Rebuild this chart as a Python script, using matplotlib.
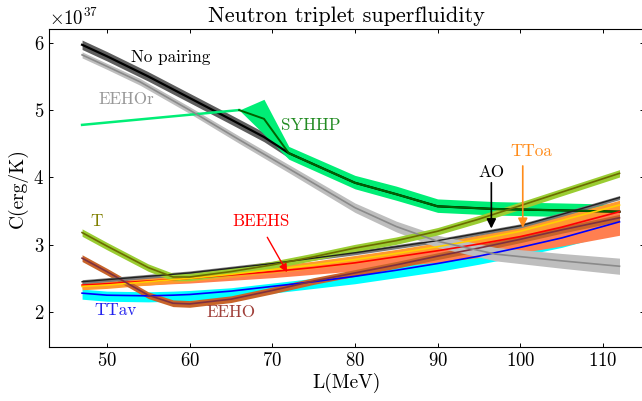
import matplotlib
matplotlib.use('Agg')
import matplotlib.pyplot as plt
import numpy as np

plt.rcParams['font.family'] = 'serif'
plt.rcParams['font.serif'] = ['cmr10']
plt.rcParams['mathtext.fontset'] = 'cm'
plt.rcParams['axes.formatter.use_mathtext'] = True

SCALE = 1e37

# common L grid (MeV)
L = [47, 50, 55, 58, 60, 65, 70, 75, 80, 85, 90, 95, 100, 105, 112]

# No pairing
L_np = [47, 50, 55, 60, 65, 69, 72, 80, 85, 90, 97, 105, 112]
C_np = [5.97, 5.80, 5.50, 5.18, 4.86, 4.60, 4.36, 3.92, 3.75, 3.57, 3.53, 3.51, 3.49]

# SYHHP
L_sy = [47, 66, 69, 72, 80, 85, 90, 97, 105, 112]
C_sy = [4.78, 5.00, 4.87, 4.36, 3.92, 3.75, 3.57, 3.53, 3.51, 3.49]
lo_sy = [4.78, 5.00, 4.64, 4.27, 3.83, 3.66, 3.48, 3.44, 3.42, 3.40]
hi_sy = [4.78, 5.00, 5.16, 4.46, 4.03, 3.87, 3.68, 3.64, 3.62, 3.60]

# EEHOr
L_er = [47, 50, 54, 60, 66, 72, 80, 85, 90, 97, 105, 112]
C_er = [5.82, 5.65, 5.42, 5.00, 4.56, 4.13, 3.55, 3.27, 3.05, 2.86, 2.76, 2.68]
w_er = [0.045, 0.045, 0.05, 0.05, 0.055, 0.06, 0.07, 0.08, 0.09, 0.10, 0.11, 0.12]

C_T = [3.18, 2.98, 2.66, 2.52, 2.52, 2.60, 2.70, 2.82, 2.95, 3.06, 3.20, 3.38, 3.58, 3.78, 4.06]
C_eeho = [2.80, 2.60, 2.25, 2.13, 2.12, 2.19, 2.32, 2.46, 2.58, 2.70, 2.83, 2.95, 3.08, 3.22, 3.40]
C_ttav = [2.28, 2.25, 2.24, 2.25, 2.26, 2.31, 2.38, 2.45, 2.53, 2.62, 2.72, 2.83, 2.96, 3.10, 3.34]
lo_ttav = [0.09, 0.09, 0.09, 0.09, 0.09, 0.10, 0.10, 0.10, 0.11, 0.11, 0.12, 0.12, 0.13, 0.14, 0.15]
hi_ttav = [0.06, 0.06, 0.06, 0.06, 0.06, 0.05, 0.05, 0.05, 0.05, 0.05, 0.05, 0.04, 0.04, 0.04, 0.04]
C_beehs = [2.40, 2.42, 2.46, 2.48, 2.50, 2.55, 2.60, 2.66, 2.73, 2.82, 2.91, 3.01, 3.12, 3.26, 3.49]
lo_beehs = [0.05, 0.05, 0.06, 0.06, 0.07, 0.08, 0.09, 0.10, 0.12, 0.14, 0.17, 0.20, 0.24, 0.28, 0.35]
C_ttoa = [2.38, 2.40, 2.45, 2.48, 2.50, 2.56, 2.63, 2.70, 2.78, 2.87, 2.97, 3.08, 3.20, 3.36, 3.59]
w_ttoa = [0.05, 0.05, 0.05, 0.05, 0.05, 0.05, 0.055, 0.055, 0.06, 0.06, 0.06, 0.065, 0.065, 0.07, 0.07]
C_ao = [2.45, 2.48, 2.53, 2.56, 2.58, 2.65, 2.72, 2.80, 2.88, 2.97, 3.06, 3.17, 3.28, 3.45, 3.70]

fig = plt.figure(figsize=(6.42, 4.01), dpi=100)
ax = fig.add_axes([49 / 642, 54 / 401, 595.3 / 642, 317.7 / 401])


def band(x, c, lo, hi, fc, lc, lw=1.2):
    x = np.array(x)
    c = np.array(c) * SCALE
    ax.fill_between(x, np.array(lo) * SCALE, np.array(hi) * SCALE, color=fc, lw=0)
    if lc is not None:
        ax.plot(x, c, color=lc, lw=lw)


c = np.array(C_np)
band(L_np, C_np, c - 0.07, c + 0.07, '#5e5e5e', 'black', lw=1.6)

# SYHHP: thin line below 66 MeV, band above
ax.plot(L_sy[:2], np.array(C_sy[:2]) * SCALE, color='#00ee76', lw=1.8)
band(L_sy[1:], C_sy[1:], lo_sy[1:], hi_sy[1:], '#00ee76', '#006400', lw=1.4)

c = np.array(C_ttav)
band(L, C_ttav, c - np.array(lo_ttav), c + np.array(hi_ttav), '#00ffff', '#0000ff')
c = np.array(C_beehs)
band(L, C_beehs, c - np.array(lo_beehs), c + 0.06, '#ff7f50', '#ff0000')
c = np.array(C_ttoa)
band(L, C_ttoa, c - np.array(w_ttoa), c + np.array(w_ttoa), '#ff9a2e', '#ffd000')
c = np.array(C_eeho)
band(L, C_eeho, c - 0.05, c + 0.05, '#c8642a', '#7e3040')
c = np.array(C_ao)
band(L, C_ao, c - 0.03, c + 0.03, '#7a7a7a', '#202020', lw=1.0)
c = np.array(C_er)
band(L_er, C_er, c - np.array(w_er), c + np.array(w_er), '#bebebe', '#8a8a8a')
c = np.array(C_T)
band(L, C_T, c - 0.055, c + 0.055, '#9acd32', '#6b6b00')

ax.set_xlim(43, 115)
ax.set_ylim(1.48 * SCALE, 6.2 * SCALE)
ax.set_xticks([50, 60, 70, 80, 90, 100, 110])
ax.set_yticks(np.array([2, 3, 4, 5, 6]) * SCALE)
ax.tick_params(direction='in', top=True, right=True, length=3, width=0.7, labelsize=13.5)
for s in ax.spines.values():
    s.set_linewidth(0.8)
ax.yaxis.get_offset_text().set_fontsize(13.5)

ax.set_title('Neutron triplet superfluidity', fontsize=16, pad=5)
ax.set_xlabel('L(MeV)', fontsize=14, labelpad=2)
ax.set_ylabel('C(erg/K)', fontsize=14, labelpad=4)

fs = 12.3
ax.text(57.7, 5.79 * SCALE, 'No pairing', fontsize=fs, color='black', ha='center', va='center')
ax.text(52.3, 5.16 * SCALE, 'EEHOr', fontsize=fs, color='#999999', ha='center', va='center')
ax.text(74.7, 4.78 * SCALE, 'SYHHP', fontsize=fs, color='#228b22', ha='center', va='center')
ax.text(101.3, 4.38 * SCALE, 'TToa', fontsize=fs, color='#ff8c1a', ha='center', va='center')
ax.text(48.8, 3.34 * SCALE, 'T', fontsize=fs, color='#808000', ha='center', va='center')
ax.text(68.6, 3.34 * SCALE, 'BEEHS', fontsize=fs, color='#ff0000', ha='center', va='center')
ax.text(51.1, 2.03 * SCALE, 'TTav', fontsize=fs, color='#2222ee', ha='center', va='center')
ax.text(65.0, 1.99 * SCALE, 'EEHO', fontsize=fs, color='#a0403a', ha='center', va='center')
ax.text(96.5, 4.08 * SCALE, 'AO', fontsize=fs, color='black', ha='center', va='center')

ax.annotate('', xy=(96.5, 3.24 * SCALE), xytext=(96.5, 3.92 * SCALE),
            arrowprops=dict(arrowstyle='-|>', color='black', lw=1.2, mutation_scale=14,
                            shrinkA=0, shrinkB=0))
ax.annotate('', xy=(100.3, 3.25 * SCALE), xytext=(100.3, 4.17 * SCALE),
            arrowprops=dict(arrowstyle='-|>', color='#ff8c1a', lw=1.2, mutation_scale=14,
                            shrinkA=0, shrinkB=0))
ax.annotate('', xy=(71.8, 2.59 * SCALE), xytext=(69.4, 3.11 * SCALE),
            arrowprops=dict(arrowstyle='-|>', color='#ff0000', lw=1.0, mutation_scale=12,
                            shrinkA=0, shrinkB=0))

fig.savefig('out.png', dpi=100)
